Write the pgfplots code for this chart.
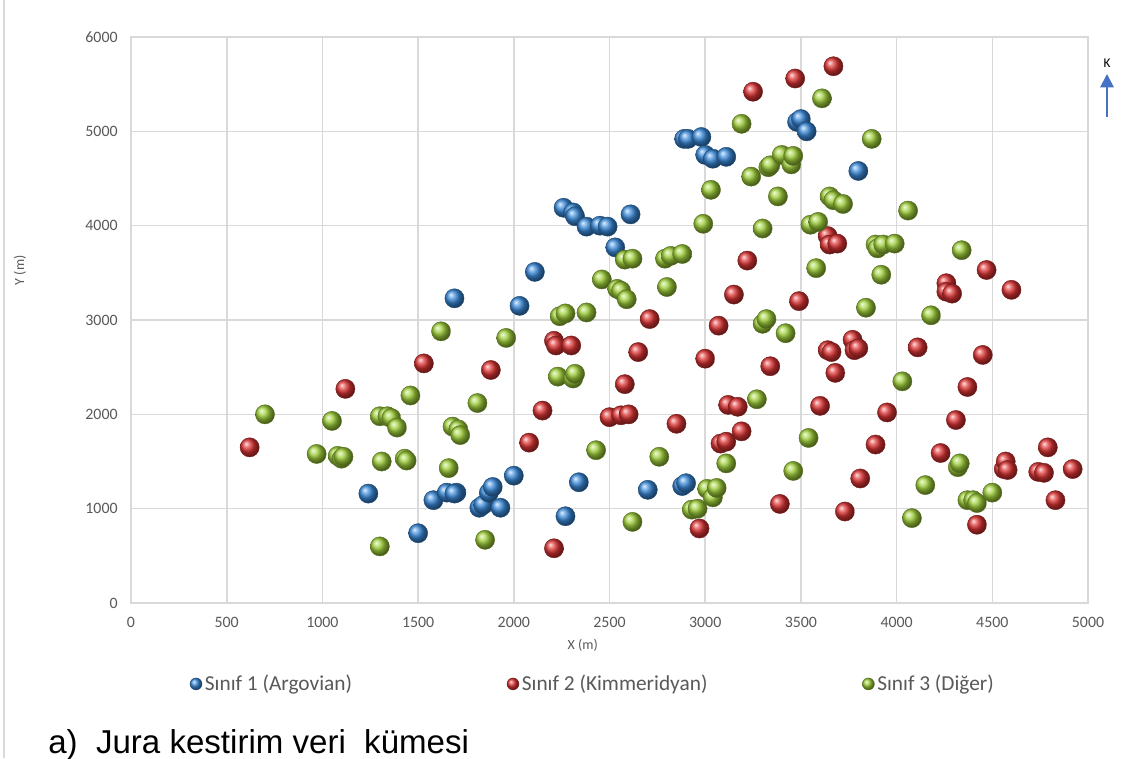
\documentclass[border=0pt]{standalone}
\usepackage{fontspec}
\setmainfont{Carlito}
\newfontfamily\arialfont{Liberation Sans}
\usepackage{pgfplots}
\usepackage{pgfplotstable}
\pgfplotsset{compat=1.18}
\usetikzlibrary{arrows.meta}
\definecolor{gridc}{RGB}{217,217,217}
\definecolor{tickc}{RGB}{89,89,89}
\definecolor{cblue}{RGB}{58,138,218}
\definecolor{cred}{RGB}{222,52,52}
\definecolor{cgreen}{RGB}{160,208,58}
\definecolor{arrowc}{RGB}{68,114,196}

\pgfplotstableread{
x y
1240 1160
1500 740
1580 1090
1650 1170
1700 1170
1690 1160
1690 3230
1820 1010
1840 1040
1870 1170
1890 1230
1930 1010
2000 1350
2030 3150
2110 3510
2260 4190
2270 920
2310 4140
2320 4100
2340 1280
2380 3990
2450 4000
2490 3990
2530 3770
2610 4120
2700 1200
2880 1240
2900 1270
2890 4920
2910 4920
2980 4940
3000 4750
3040 4710
3110 4730
3480 5100
3500 5130
3530 5000
3800 4580
}\classone

\pgfplotstableread{
x y
620 1650
1120 2270
1530 2540
1880 2470
2080 1700
2150 2040
2210 580
2210 2780
2220 2730
2300 2730
2500 1970
2560 1990
2580 2320
2600 2000
2650 2660
2710 3010
2850 1900
2970 790
3000 2590
3070 2940
3080 1690
3110 1710
3120 2100
3150 3270
3170 2080
3190 1820
3220 3630
3250 5420
3340 2510
3390 1050
3470 5560
3490 3200
3600 2090
3640 3890
3640 2680
3650 3800
3660 2660
3680 2440
3690 3810
3670 5690
3730 970
3770 2790
3780 2680
3800 2700
3810 1320
3890 1680
3950 2020
4110 2710
4230 1590
4260 3390
4260 3300
4290 3280
4310 1940
4370 2290
4420 830
4450 2630
4470 3530
4560 1420
4570 1500
4580 1410
4600 3320
4740 1390
4770 1380
4790 1650
4830 1090
4920 1420
}\classtwo

\pgfplotstableread{
x y
700 2000
970 1580
1050 1930
1080 1560
1100 1530
1110 1550
1300 600
1300 1980
1310 1500
1340 1980
1360 1960
1390 1860
1430 1530
1440 1510
1460 2200
1620 2880
1660 1430
1680 1870
1710 1840
1720 1780
1810 2120
1850 670
1960 2810
2230 2400
2240 3040
2270 3070
2310 2380
2320 2430
2380 3080
2430 1620
2460 3430
2540 3330
2560 3310
2580 3640
2590 3220
2620 3650
2620 860
2760 1550
2790 3650
2800 3350
2820 3680
2880 3700
2930 990
2960 1000
2990 4020
3010 1210
3040 1120
3060 1220
3030 4380
3110 1480
3190 5080
3240 4520
3270 2160
3300 3970
3300 2960
3320 3010
3330 4620
3340 4640
3380 4310
3400 4750
3420 2860
3450 4650
3460 4740
3460 1400
3540 1750
3550 4010
3580 3550
3590 4040
3610 5350
3650 4310
3670 4270
3720 4230
3840 3130
3870 4920
3890 3800
3900 3760
3920 3480
3930 3800
3990 3810
4030 2350
4060 4160
4080 900
4150 1250
4180 3050
4320 1440
4330 1480
4340 3740
4370 1090
4400 1090
4420 1060
4500 1170
}\classthree

\begin{document}
\begin{tikzpicture}
\useasboundingbox (0,0) rectangle (851.25pt,568.5pt);
\fill[white] (0,0) rectangle (851.25pt,568.5pt);
\draw[gridc,line width=1.5pt] (3pt,0) -- (3pt,568.5pt);
\begin{axis}[
  at={(98.25pt,116.25pt)}, anchor=south west,
  scale only axis, width=717.75pt, height=424.5pt,
  xmin=0, xmax=5000, ymin=0, ymax=6000,
  xtick={0,500,...,5000}, ytick={0,1000,...,6000},
  grid=major, grid style={gridc,line width=1.2pt},
  axis line style={gridc,line width=1.2pt},
  major tick length=0pt,
  tick label style={font=\fontsize{11.9}{14}\selectfont, text=tickc},
  /pgf/number format/assume math mode=true,
  /pgf/number format/1000 sep={},
  xticklabel shift=7pt,
  yticklabel shift=6.5pt,
  xlabel={X (m)}, ylabel={Y (m)},
  label style={font=\fontsize{10.5}{12}\selectfont, text=tickc},
  xlabel style={at={(axis description cs:0.472,-0.074)}, anchor=center},
  ylabel style={at={(axis description cs:-0.116,0.588)}, anchor=center},
  legend columns=3,
  legend style={at={(axis description cs:0.057,-0.143)}, anchor=west,
    draw=none, fill=none, font=\fontsize{16}{19}\selectfont, text=tickc,
    /tikz/every even column/.append style={column sep=114pt}},
  legend image post style={mark size=4.5pt},
]
\addplot[only marks, mark=ball, mark size=7.2pt, ball color=cblue, mark options={ball color=cblue, draw=cblue!55!black, line width=0.3pt}] table[x=x,y=y] {\classone};
\addlegendentry{Sınıf 1 (Argovian)}
\addplot[only marks, mark=ball, mark size=7.2pt, ball color=cred, mark options={ball color=cred, draw=cred!55!black, line width=0.3pt}] table[x=x,y=y] {\classtwo};
\addlegendentry{Sınıf 2 (Kimmeridyan)}
\addplot[only marks, mark=ball, mark size=7.2pt, ball color=cgreen, mark options={ball color=cgreen, draw=cgreen!55!black, line width=0.3pt}] table[x=x,y=y] {\classthree};
\addlegendentry{Sınıf 3 (Diğer)}
\end{axis}
\draw[arrowc, line width=1.5pt, -{Triangle[width=10pt,length=10pt]}] (830.25pt,480.75pt) -- (830.25pt,513pt);
\node[font=\fontsize{10}{12}\selectfont] at (830.25pt,521pt) {K};
\node[anchor=base west, inner sep=0pt, font=\arialfont\fontsize{24.8}{28}\selectfont] at (36pt,3.75pt) {a)\ \ Jura kestirim veri\ \ kümesi};
\end{tikzpicture}
\end{document}
